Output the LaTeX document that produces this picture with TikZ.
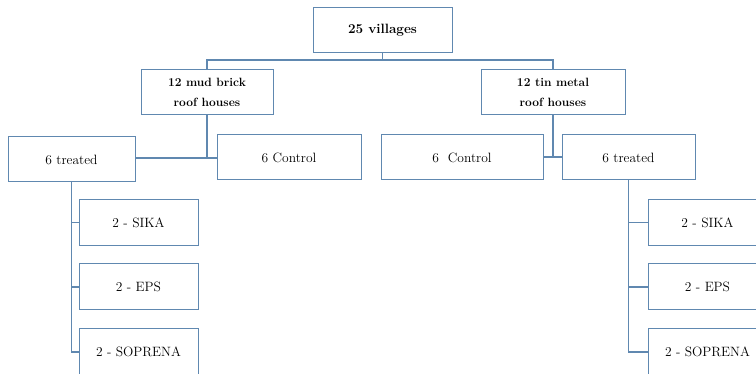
\documentclass[tikz,border=0pt]{standalone}
\definecolor{boxblue}{RGB}{96,136,176}
\begin{document}
\begin{tikzpicture}[x=1pt,y=-1pt,
		box/.style={draw=boxblue, line width=1pt, fill=white, inner sep=2pt,
			minimum height=45pt, font=\fontsize{13.5}{15}\selectfont},
		head/.style={box, font=\fontsize{12}{20}\bfseries, align=center},
		sub/.style={box, minimum width=119pt, minimum height=46pt},
		link/.style={draw=boxblue, line width=1.1pt}]
		\useasboundingbox (0,0) rectangle (756,374);
		\clip (0,0) rectangle (756,374);
		%
		% Boxes
		%
		\node[box, minimum width=139pt, font=\fontsize{13.5}{15}\bfseries] (vil) at (382.5,30.5) {25 villages};
		\node[head, minimum width=132pt] (mud) at (207,92.5) {12 mud brick\\roof houses};
		\node[head, minimum width=144pt] (tin) at (553,92.5) {12 tin metal\\roof houses};
		\node[box, minimum width=127pt] (trL) at (71.5,159.5) {6 treated};
		\node[box, minimum width=144pt] (ctL) at (289,157.5) {6 Control};
		\node[box, minimum width=162pt] (ctR) at (462,157.5) {6\ \ Control};
		\node[box, minimum width=133pt] (trR) at (628.5,157.5) {6 treated};
		\foreach \s/\y/\t in {sika/222.5/2 - SIKA, eps/287/2 - EPS, sop/352/2 - SOPRENA}{
			\node[sub] (\s L) at (138.5,\y) {\t};
			\node[sub] (\s R) at (707.5,\y) {\t};
		}
		%
		% Links
		%
		\draw[link] (vil.south) -- (vil.south |- 0,60);
		\draw[link] (mud.north) -- (mud.north |- 0,60) -- (tin.north |- 0,60) -- (tin.north);
		\draw[link] (mud.south) -- (mud.south |- 0,158);
		\draw[link] (trL.east |- 0,158) -- (ctL.west |- 0,158);
		\draw[link] (tin.south) -- (tin.south |- 0,157);
		\draw[link] (ctR.east |- 0,157) -- (trR.west |- 0,157);
		\draw[link] (trL.south) |- (sopL.west);
		\draw[link] (trR.south) |- (sopR.west);
		\foreach \s in {sika,eps}{
			\draw[link] (trL.south |- \s L.west) -- (\s L.west);
			\draw[link] (trR.south |- \s R.west) -- (\s R.west);
		}
	\end{tikzpicture}
\end{document}
